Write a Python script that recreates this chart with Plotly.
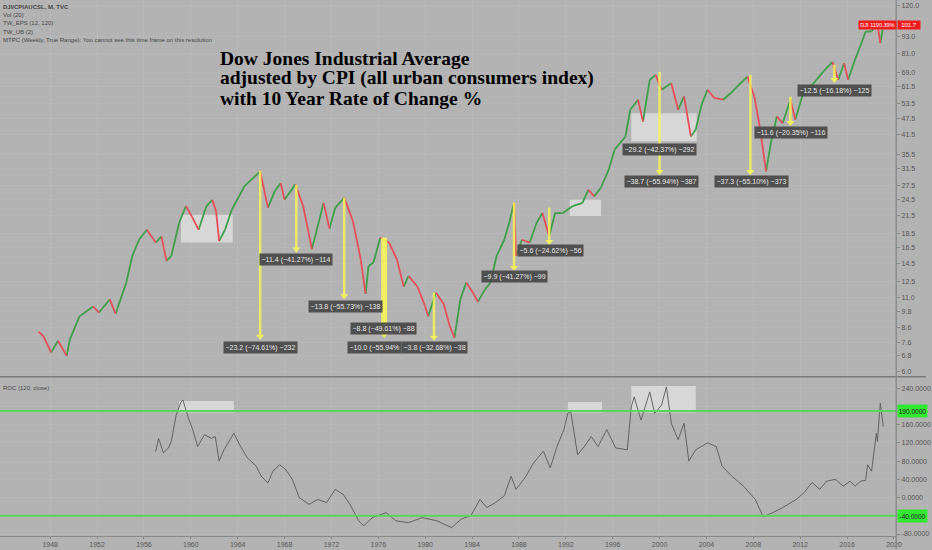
"""
Dow Jones Industrial Average adjusted by CPI, with 10 year rate of change.
TradingView style chart rebuilt with plotly.
"""

import math
import plotly.graph_objects as go

# Price (DJI / CPIAUCSL)
price_dates = ["1947-01", "1947-06", "1948-02", "1948-09", "1949-06", "1949-09", "1950-07", "1951-09",
               "1952-03", "1953-02", "1953-08", "1954-07", "1955-01", "1955-08", "1956-04", "1957-01",
               "1957-07", "1957-12", "1958-05", "1959-01", "1959-08", "1960-02", "1960-09", "1961-05",
               "1961-11", "1962-03", "1962-06", "1962-12", "1963-07", "1964-08", "1965-12", "1966-08",
               "1967-03", "1967-09", "1968-01", "1968-12", "1969-08", "1970-05", "1970-11", "1971-05",
               "1971-11", "1972-05", "1973-02", "1973-11", "1974-07", "1974-12", "1975-03", "1975-08",
               "1976-03", "1976-12", "1977-08", "1978-03", "1978-08", "1979-05", "1980-01", "1980-04",
               "1980-12", "1981-08", "1982-02", "1982-07", "1983-01", "1983-07", "1984-02", "1984-07",
               "1985-02", "1985-08", "1986-02", "1986-10", "1987-03", "1987-08", "1987-10", "1988-04",
               "1988-12", "1989-07", "1990-01", "1990-08", "1991-02", "1991-10", "1992-08", "1993-06",
               "1993-12", "1994-06", "1995-01", "1995-09", "1996-03", "1997-02", "1997-07", "1998-03",
               "1998-08", "1999-03", "1999-09", "2000-03", "2001-01", "2001-08", "2002-02", "2002-09",
               "2003-02", "2003-08", "2004-02", "2004-09", "2005-06", "2006-02", "2006-12", "2007-07",
               "2008-02", "2008-08", "2009-02", "2009-07", "2010-01", "2010-07", "2011-03", "2011-08",
               "2012-04", "2013-02", "2014-01", "2014-10", "2015-04", "2015-10", "2016-02", "2016-09",
               "2017-03", "2017-08", "2018-02", "2018-08", "2018-11", "2019-02"]
price_close = [8.3, 8.0, 7.0, 7.7, 6.8, 7.75, 9.4, 10.2,
               9.7, 10.8, 9.6, 12.4, 15.4, 17.6, 19.1, 17.2,
               18.1, 14.8, 15.4, 20.2, 23.2, 21.3, 19.1, 23.2,
               24.4, 22.2, 17.4, 19.1, 22.5, 27.3, 30.8, 22.9,
               26.2, 28.0, 24.4, 27.7, 23.2, 16.3, 19.7, 23.8,
               19.3, 22.9, 24.8, 20.5, 15.0, 11.3, 14.2, 14.6,
               17.9, 17.2, 15.0, 12.0, 13.1, 12.0, 10.2, 9.4,
               11.4, 10.4, 8.7, 7.9, 10.8, 12.4, 11.4, 10.6,
               11.7, 12.4, 15.4, 17.6, 20.2, 23.8, 15.4, 17.6,
               17.2, 20.2, 21.9, 18.1, 21.9, 21.9, 23.2, 23.8,
               26.5, 25.1, 27.0, 31.3, 36.8, 41.0, 51.0, 55.4,
               46.3, 65.2, 67.9, 60.1, 63.4, 51.0, 56.9, 41.0,
               43.4, 53.1, 60.1, 56.2, 55.4, 58.5, 63.4, 66.9,
               56.9, 43.4, 30.8, 38.9, 48.3, 45.7, 55.4, 47.0,
               58.5, 63.0, 70.0, 75.5, 65.2, 74.7, 65.2, 76.7,
               86.7, 96.7, 97.0, 103.5, 88.0, 101.7]

# ROC (120, close)
roc_dates = ["1957-01", "1957-04", "1957-09", "1958-02", "1958-05", "1958-10", "1959-03", "1959-05",
             "1959-10", "1960-03", "1960-08", "1961-03", "1961-10", "1962-02", "1962-06", "1962-11",
             "1963-09", "1964-04", "1964-11", "1965-08", "1966-01", "1966-08", "1967-01", "1967-08",
             "1968-02", "1968-09", "1969-04", "1970-02", "1970-11", "1971-08", "1972-05", "1973-01",
             "1973-08", "1974-05", "1974-10", "1975-07", "1976-09", "1977-07", "1978-08", "1979-10",
             "1981-01", "1981-12", "1982-04", "1983-02", "1983-12", "1984-09", "1985-04", "1986-01",
             "1986-10", "1987-05", "1987-10", "1988-07", "1989-04", "1990-02", "1990-09", "1991-04",
             "1991-11", "1992-03", "1992-06", "1993-01", "1993-08", "1994-03", "1994-10", "1995-07",
             "1996-04", "1997-04", "1997-08", "1997-11", "1998-06", "1999-03", "1999-08", "2000-03",
             "2000-08", "2001-01", "2001-08", "2002-02", "2002-07", "2003-02", "2004-02", "2004-11",
             "2005-05", "2006-03", "2007-03", "2008-03", "2008-11", "2009-09", "2010-07", "2011-09",
             "2012-05", "2013-01", "2013-09", "2014-04", "2015-01", "2015-09", "2016-04", "2016-09",
             "2017-03", "2017-08", "2017-10", "2018-02", "2018-05", "2018-07", "2018-08", "2018-11",
             "2019-02"]
roc_values = [101, 130, 98, 109, 123, 181, 210, 214,
              178, 149, 112, 138, 130, 134, 80, 105,
              141, 112, 87, 69, 47, 32, 58, 72,
              62, 40, 0, -15, -4, -11, 18, 7,
              -15, -51, -62, -44, -33, -51, -55, -44,
              -51, -62, -66, -47, -39, -4, -22, -11,
              4, 47, 18, 43, 76, 102, 65, 112,
              149, 185, 189, 94, 112, 134, 112, 149,
              109, 105, 199, 221, 170, 232, 185, 203,
              243, 163, 127, 163, 80, 105, 120, 112,
              69, 47, 25, -4, -42, -33, -22, -4,
              11, 33, 18, 36, 40, 25, 36, 25,
              36, 38, 72, 58, 101, 141, 123, 207,
              156]
roc_levels = [190, -40]

# drawdown arrows on the price pane
arrow_dates = ["1965-12", "1969-01", "1973-02", "1976-07", "1980-10", "1987-08", "1990-08",
               "2000-01", "2007-10", "2011-03", "2014-12"]
arrow_tops = [31.0, 27.6, 24.8, 17.9, 11.4, 23.9, 22.9, 69.6, 67.9, 56.7, 73.7]
arrow_bottoms = [7.98, 16.3, 11.1, 8.1, 7.9, 14.0, 17.3, 30.7, 30.7, 45.9, 65.2]

# measure labels (the 1976 one is partly hidden under the 1980 one on the chart)
label_dates = ["1965-12", "1969-01", "1973-03", "1976-06", "1975-09", "1980-11", "1987-08",
               "1990-09", "2000-01", "2000-03", "2007-11", "2011-04", "2014-12"]
label_levels = [7.3, 15.0, 10.2, 8.49, 7.27, 7.27, 13.0, 16.1, 36.9, 28.3, 28.3, 42.4, 59.8]
label_texts = ["−23.2 (−74.61%) −232", "−11.4 (−41.27%) −114", "−13.8 (−55.73%) −138",
               "−8.8 (−49.61%) −88", "−10.0 (−55.94%", "−3.8 (−32.68%) −38",
               "−9.9 (−41.27%) −99", "−5.6 (−24.62%) −56", "−29.2 (−42.37%) −292",
               "−38.7 (−55.94%) −387", "−37.3 (−55.10%) −373", "−11.6 (−20.35%) −116",
               "−12.5 (−16.18%) −125"]

# highlighted zones
box_starts = ["1959-03", "1992-05", "1997-08"]
box_ends = ["1963-08", "1995-01", "2003-03"]
box_lows = [17.2, 21.4, 39.4]
box_highs = [21.6, 24.4, 49.6]
roc_box_starts = ["1959-01", "1992-03", "1997-08"]
roc_box_ends = ["1963-09", "1995-02", "2003-02"]
roc_box_lows = [187, 187, 187]
roc_box_highs = [212, 210, 245]

year_ticks = [str(y) for y in range(1948, 2021, 4)]
price_ticks = [6.0, 6.8, 7.6, 8.6, 9.8, 11.0, 12.5, 14.5, 16.5, 18.5, 21.5, 24.5, 27.5,
               31.5, 35.5, 41.5, 47.5, 53.5, 61.5, 69.0, 81.0, 93.0, 120.0]
roc_ticks = [-80, -40, 0, 40, 80, 120, 160, 200, 240]

BG = "#b3b3b3"
GREEN = "#3f9f4a"
RED = "#e4505a"
YELLOW = "rgba(245,245,90,0.85)"
XR = 902 / 932

fig = go.Figure()

# zone boxes (price pane)
bx, by = [], []
for s, e, lo, hi in zip(box_starts, box_ends, box_lows, box_highs):
    bx += [s, e, e, s, s, None]
    by += [lo, lo, hi, hi, lo, None]
fig.add_trace(go.Scatter(x=bx, y=by, mode="lines", fill="toself", line=dict(width=0),
                         fillcolor="rgba(238,238,238,0.6)", xaxis="x2", yaxis="y", hoverinfo="skip"))

# price, green when rising and red when falling
gx, gy, rx, ry = [], [], [], []
for i in range(1, len(price_close)):
    seg_x = [price_dates[i - 1], price_dates[i], None]
    seg_y = [price_close[i - 1], price_close[i], None]
    if price_close[i] >= price_close[i - 1]:
        gx += seg_x
        gy += seg_y
    else:
        rx += seg_x
        ry += seg_y
fig.add_trace(go.Scatter(x=gx, y=gy, mode="lines", line=dict(color=GREEN, width=1.8),
                         xaxis="x2", yaxis="y"))
fig.add_trace(go.Scatter(x=rx, y=ry, mode="lines", line=dict(color=RED, width=1.8),
                         xaxis="x2", yaxis="y"))

# drawdown arrows (the 1976 one is a thick band of several arrows)
ax_, ay_ = [], []
for d, t, b in zip(arrow_dates, arrow_tops, arrow_bottoms):
    ax_ += [d, d, None]
    ay_ += [t, b, None]
fig.add_trace(go.Scatter(x=ax_, y=ay_, mode="lines", line=dict(color=YELLOW, width=2.5),
                         xaxis="x2", yaxis="y"))
fig.add_trace(go.Scatter(x=arrow_dates[3:4] * 2, y=[arrow_tops[3], arrow_bottoms[3]], mode="lines",
                         line=dict(color=YELLOW, width=6), xaxis="x2", yaxis="y"))
fig.add_trace(go.Scatter(x=arrow_dates, y=arrow_bottoms, mode="markers",
                         marker=dict(symbol="triangle-down", size=7, color=YELLOW),
                         xaxis="x2", yaxis="y"))

# ROC pane
rbx, rby = [], []
for s, e, lo, hi in zip(roc_box_starts, roc_box_ends, roc_box_lows, roc_box_highs):
    rbx += [s, e, e, s, s, None]
    rby += [lo, lo, hi, hi, lo, None]
fig.add_trace(go.Scatter(x=rbx, y=rby, mode="lines", fill="toself", line=dict(width=0),
                         fillcolor="rgba(238,238,238,0.6)", xaxis="x", yaxis="y2"))
fig.add_trace(go.Scatter(x=roc_dates, y=roc_values, mode="lines",
                         line=dict(color="#5a5a5a", width=0.9), xaxis="x", yaxis="y2"))

for lv in roc_levels:
    fig.add_shape(type="line", xref="paper", x0=0, x1=XR, yref="y2", y0=lv, y1=lv,
                  line=dict(color="#58d858", width=2))
    fig.add_annotation(xref="paper", x=XR + 0.001, xanchor="left", yref="y2", y=lv,
                       yanchor="middle", text=f"{lv:.4f}", showarrow=False,
                       bgcolor="#33e633", width=27, height=10,
                       font=dict(family="Liberation Sans", size=6.5, color="#222222"))

# measure labels
for d, lv, t in zip(label_dates, label_levels, label_texts):
    fig.add_annotation(x=d, y=math.log10(lv), xref="x2", yref="y", text=t, showarrow=False,
                       bgcolor="rgba(72,72,72,0.92)", borderpad=1.5,
                       font=dict(family="Liberation Sans", size=7, color="#e6e6e6"))

# title
title_lines = ["Dow Jones Industrial Average", "adjusted by CPI (all urban consumers index)",
               "with 10 Year Rate of Change %"]
for i, line in enumerate(title_lines):
    fig.add_annotation(xref="paper", yref="paper", x=219 / 932, xanchor="left",
                       y=1 - (58.5 + 20 * i) / 550, yanchor="middle", text=f"<b>{line}</b>",
                       showarrow=False, font=dict(family="Liberation Serif", size=19.5, color="#000000"))

# indicator legend, top left
legend_lines = ["DJI/CPIAUCSL, M, TVC", "Vol (20)", "TW_EPS (12, 120)", "TW_UB (2)",
                "MTPC (Weekly, True Range): You cannot see this time frame on this resolution"]
for i, line in enumerate(legend_lines):
    fig.add_annotation(xref="paper", yref="paper", x=1 / 932, xanchor="left",
                       y=1 - (6.7 + 8.4 * i) / 550, yanchor="middle",
                       text=f"<b>{line}</b>" if i == 0 else line, showarrow=False,
                       font=dict(family="Liberation Sans", size=6, color="#474747"))
fig.add_annotation(xref="paper", yref="paper", x=1 / 932, xanchor="left", y=1 - 389 / 550,
                   yanchor="middle", text="ROC (120, close)", showarrow=False,
                   font=dict(family="Liberation Sans", size=6, color="#474747"))

# last price tag
fig.add_annotation(xref="paper", yref="paper", x=864 / 932, xanchor="left", y=1 - 25 / 550,
                   yanchor="middle", text="DJI 1190.39%", showarrow=False, bgcolor="#f01c1c",
                   width=37, height=8, borderpad=0,
                   font=dict(family="Liberation Sans", size=5.5, color="#ffffff"))
fig.add_annotation(xref="paper", yref="paper", x=XR + 0.001, xanchor="left", y=1 - 25 / 550,
                   yanchor="middle", text="101.7", showarrow=False, bgcolor="#f01c1c",
                   width=22, height=8, borderpad=0,
                   font=dict(family="Liberation Sans", size=6, color="#ffffff"))

# pane separator and price scale border
fig.add_shape(type="line", xref="paper", yref="paper", x0=0, x1=1, y0=1 - 377.5 / 550,
              y1=1 - 377.5 / 550, line=dict(color="#7c7c7c", width=1.5))
fig.add_shape(type="line", xref="paper", yref="paper", x0=XR, x1=XR, y0=0, y1=1,
              line=dict(color="#858585", width=1.2))

xrange = ["1943-09-20", "2020-03-10"]
tickfont = dict(family="Liberation Sans", size=7, color="#555555")
# tick labels that sit under the green level tags are left blank
roc_ticktext = ["" if v in (200, -40) else f"{v:.4f}" for v in roc_ticks]
fig.update_layout(
    width=932, height=550,
    margin=dict(l=0, r=0, t=0, b=0),
    paper_bgcolor=BG, plot_bgcolor=BG,
    showlegend=False,
    xaxis=dict(domain=[0, XR], anchor="y2", range=xrange, tickvals=[f"{y}-01-01" for y in year_ticks],
               ticktext=year_ticks, tickfont=tickfont, ticks="outside", ticklen=2,
               tickcolor="#888888", showline=True, linecolor="#8a8a8a",
               showgrid=True, gridcolor="rgba(255,255,255,0.07)", zeroline=False),
    xaxis2=dict(domain=[0, XR], anchor="y", matches="x", range=xrange,
                tickvals=[f"{y}-01-01" for y in year_ticks], showticklabels=False,
                showgrid=True, gridcolor="rgba(255,255,255,0.07)", zeroline=False),
    yaxis=dict(domain=[1 - 377 / 550, 1], anchor="x2", side="right", type="log",
               range=[0.760, 2.098], tickvals=price_ticks, ticktext=[f"{v:.1f}" for v in price_ticks],
               tickfont=tickfont, ticks="outside", ticklen=3, tickcolor="#888888",
               showgrid=True, gridcolor="rgba(255,255,255,0.06)", zeroline=False),
    yaxis2=dict(domain=[13 / 550, 1 - 379 / 550], anchor="x", side="right",
                range=[-84.4, 261.8], tickvals=roc_ticks, ticktext=roc_ticktext,
                tickfont=tickfont, ticks="outside", ticklen=3, tickcolor="#888888",
                showgrid=True, gridcolor="rgba(255,255,255,0.06)", zeroline=False),
)

# drop the browser's default body margin so the figure sits at the page corner
fig.write_html("out.html", config={"displayModeBar": False},
               post_script="document.body.style.margin='0';")
